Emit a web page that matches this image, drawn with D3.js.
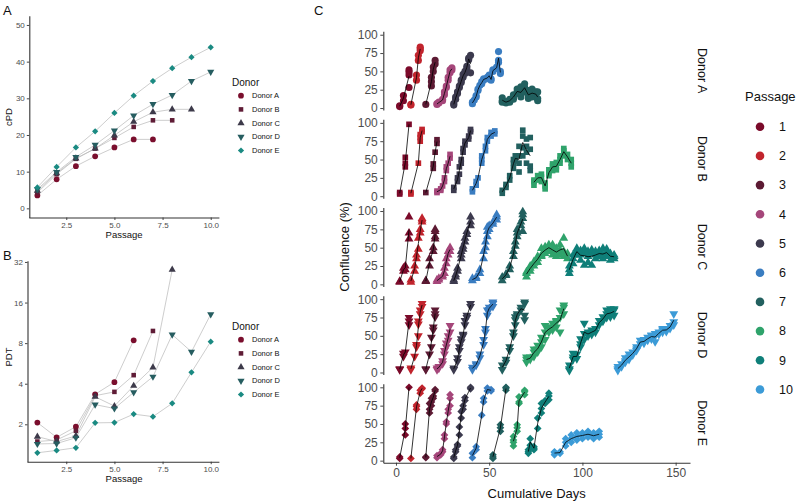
<!DOCTYPE html>
<html><head><meta charset="utf-8">
<script src="https://cdn.jsdelivr.net/npm/d3@7"></script>
<style>body{margin:0;background:#fff} text{font-family:"Liberation Sans",Arial,Helvetica,sans-serif}</style>
</head><body><svg id="chart" width="800" height="504"></svg>
<script>
// ---------- DATA ----------
const donors = ["Donor A","Donor B","Donor C","Donor D","Donor E"];
const donorColors = ["#7A0E2D","#5F1C36","#3D3A4A","#265D60","#1A8A82"];
const passageNumbers = [1,2,3,4,5,6,7,8,9,10];
const passageColors = ["#7B0A2A","#C1242D","#5C1A33","#A5467A","#3C3A4E","#3A7DC1","#22605F","#2FA36B","#0F7F79","#3C9BD7"];
// cumulative population doublings, per donor, passage 1..n
const cpdValues = [
  [3.5,7.9,11.5,14.2,16.6,18.8,18.8],
  [4.3,9.3,13.5,16.3,19.2,22.2,24.0,24.0],
  [4.8,9.6,13.6,16.3,19.9,23.6,26.2,27.0,27.0],
  [5.2,9.9,14.0,17.3,21.2,25.3,28.4,30.9,34.7,37.2],
  [5.7,11.3,16.6,21.0,26.0,30.7,34.7,38.2,41.2,43.9]
];
// population doubling time, per donor, passage 1..n
const pdtValues = [
  [2.06,1.60,1.92,3.34,4.11,8.4],
  [1.49,1.53,1.79,3.26,3.48,4.63,9.85],
  [1.62,1.49,1.64,3.2,2.73,3.86,5.28,28.1],
  [1.43,1.44,1.59,2.80,2.62,3.45,4.51,9.25,6.9,13.1],
  [1.23,1.28,1.34,2.05,2.06,2.38,2.28,2.86,4.86,8.2]
];
const passageTicks = [2.5,5,7.5,10];
const cpdTicks = [0,10,20,30,40,50];
const pdtTicks = [2,4,8,16,32];
const confTicks = [0,25,50,75,100];
const dayTicks = [0,50,100,150];
// confluence (%) : per passage, list of [cumulative day, replicate values]
const confDonorA = [
  [[2,[2,3]],[4,[10,17]],[7,[28,45,49,52]]],
  [[8,[4,5]],[11,[38,45]],[12,[65,72]],[13,[78,81,83]]],
  [[16,[5]],[19,[30,36,42]],[20,[50,56]],[21,[60,65]]],
  [[22,[5,6]],[23,[7,8]],[25,[10,12]],[26,[18,22]],[27,[28,30]],[28,[38,42]],[29,[48,52]],[30,[52,55]]],
  [[31,[4,6]],[32,[12,15]],[33,[20,22]],[34,[28,30]],[35,[35,38]],[36,[42,46]],[37,[47,50]],[38,[54,57]],[39,[66,68]],[40,[48,72]]],
  [[41,[6,8]],[42,[11]],[43,[15,17]],[44,[24,26]],[45,[31]],[46,[33,36]],[47,[38,40]],[49,[40,42]],[50,[43,45]],[51,[38,40]],[52,[50,52]],[54,[54,56]],[55,[62,65,77]],[56,[47,50]]],
  [[57,[8,10,14]],[59,[7,9]],[61,[8,12]],[63,[12,15,18]],[65,[20,22,26]],[67,[15,20,29]],[69,[22,28,33]],[71,[13,17,24]],[73,[15,20,26]],[75,[15,20,22]],[76,[10,13,22]]]
];
const confDonorB = [
  [[2,[3,5]],[5,[40,45,53]],[7,[98]]],
  [[8,[3,5]],[12,[45]],[13,[75,80,84]],[14,[88,91]]],
  [[16,[5]],[20,[38,44]],[21,[60]],[22,[72,77]]],
  [[22,[5,7]],[24,[8,10]],[25,[14]],[26,[20,25]],[27,[35,40]],[28,[45]],[29,[52,57]]],
  [[31,[8,12]],[33,[20,25]],[34,[30,40]],[35,[45,50]],[36,[60,65]],[37,[70,75]],[39,[78,82]],[40,[88,91]]],
  [[41,[6,10]],[43,[15,20]],[44,[25]],[46,[45,50,55]],[48,[62,68]],[49,[75,80]],[51,[82,87]],[53,[85,89]]],
  [[57,[4,8]],[59,[12,16]],[61,[22,28]],[63,[38,45,50]],[64,[48,55]],[66,[33,45,55,68]],[68,[55,66,82,90]],[70,[45,60,68,78]],[72,[35,41,64,80]]],
  [[74,[15,20,22]],[76,[22,28]],[78,[20,26,30]],[80,[10,14,18]],[82,[28,32,36]],[84,[35,41,44]],[86,[36,40,46]],[88,[45,50,55]],[90,[55,62,65]],[92,[50,57]],[94,[40,45,50]]]
];
const confDonorC = [
  [[2,[3,4]],[4,[18,22]],[5,[20,25]],[7,[62,70,92]]],
  [[8,[3,6]],[10,[18,25]],[11,[35,40]],[12,[48,63]],[13,[70,75]],[14,[85,88,90]]],
  [[16,[4,5]],[18,[25,35]],[20,[45,50]],[21,[62,65,72,75]]],
  [[22,[4,6]],[23,[6,8]],[25,[10,12]],[26,[15,22]],[27,[28,35]],[28,[40,45]],[29,[45,50]]],
  [[31,[4,6]],[32,[10,13]],[33,[18,22]],[35,[35,40,45]],[36,[48,52]],[37,[58,63]],[38,[68,72]],[40,[80,85,92]]],
  [[41,[5,8]],[43,[8,10]],[45,[15,20]],[47,[35,45]],[48,[50,58]],[49,[65,72,78]],[50,[75,80]],[52,[82,85]],[54,[88,92,95]]],
  [[57,[5,10]],[59,[12,14]],[61,[20,25]],[63,[38,45]],[64,[52,58]],[65,[65,70,75]],[67,[80,85]],[68,[72,90,95,99]]],
  [[70,[10,15,17]],[72,[18,22,25]],[74,[25,29,31]],[76,[30,35,38]],[78,[38,40,49]],[80,[42,47,51]],[82,[45,51,54]],[84,[40,47,54]],[86,[38,45,49]],[88,[40,47,54]],[90,[38,45,63]],[92,[35,42]]],
  [[93,[15,20,25]],[95,[28,35,40]],[97,[40,45,49]],[99,[33,40,46]],[101,[26,42,49]],[103,[30,38,45]],[105,[26,42,47]],[107,[35,40,45]],[109,[38,42,46]],[111,[35,40,49]],[113,[38,44,48]],[115,[33,40,42]],[117,[35,38,40]]]
];
const confDonorD = [
  [[2,[4,5]],[4,[22,26]],[5,[28]],[7,[65,70,75]]],
  [[8,[4,6]],[10,[22]],[11,[35,38]],[12,[50,66,70]],[13,[80,85]],[14,[90,94]]],
  [[16,[4,5]],[18,[25]],[19,[35,48]],[20,[58,62]],[21,[76,80,85]]],
  [[22,[4,6]],[23,[6,8]],[25,[12,16]],[26,[25,30]],[27,[35,40]],[28,[44,50]],[29,[55,64]]],
  [[31,[4,6]],[33,[15,20]],[34,[30,35]],[35,[42,46]],[36,[50,52]],[37,[65,71]],[38,[75,78]],[40,[90,94]]],
  [[41,[4,7]],[43,[10,12]],[45,[20,25]],[47,[38,45]],[48,[55,60]],[49,[78,85]],[50,[86,89]],[52,[90,94,96]]],
  [[57,[4,10]],[59,[14,18]],[61,[30,35]],[63,[50,55]],[64,[65,72,76]],[65,[78,80]],[67,[85,89]],[69,[72,78,94,96]]],
  [[70,[14,18,21]],[72,[18,21]],[74,[22,28,32]],[76,[28,32,37]],[78,[35,42,48]],[80,[45,55,64]],[82,[55,60,62]],[84,[58,62,67]],[86,[62,69,71]],[88,[55,75,85]],[90,[80,89,92]]],
  [[93,[3,5,10]],[95,[18,21,26]],[97,[19,25]],[99,[35,39,46]],[101,[45,53,67]],[103,[50,55]],[105,[52,55,58]],[107,[55,60]],[109,[65,71]],[111,[70,76]],[113,[75,80,85]],[115,[76,80,87]],[117,[78,85,87]]],
  [[119,[3,5,8]],[121,[8,12]],[123,[14,16,20]],[125,[18,21,25]],[127,[24,28]],[129,[30,32,35]],[131,[39,44]],[133,[40,42,45]],[135,[44,48]],[137,[46,50,51]],[139,[42,50,53]],[141,[52,55]],[143,[55,58,60]],[145,[56,60]],[147,[60,64]],[149,[65,69,80]]]
];
const confDonorE = [
  [[2,[3,5]],[5,[35,44,50]],[7,[100]]],
  [[8,[3]],[11,[70,74,76]],[13,[92,96]],[14,[98,99]]],
  [[16,[4,5]],[18,[65,70,78]],[19,[75,80,85]],[20,[85,88]],[21,[95,97]]],
  [[22,[4,7]],[24,[8,10]],[25,[12,15]],[26,[30,35]],[27,[50,53]],[28,[65,70]],[29,[75,85,90]]],
  [[31,[3,5]],[32,[12,15]],[33,[20,22]],[34,[35,46]],[35,[58,67]],[36,[70,75]],[37,[82,86]],[40,[98,100]]],
  [[41,[4,10]],[43,[15,19]],[46,[62]],[47,[80,85]],[49,[95,99]],[51,[95,97]]],
  [[52,[3,5,8]],[56,[40,45,49]],[59,[96,99,100]]],
  [[63,[20,25,28,33]],[65,[40,45,49]],[66,[78,80,87]],[69,[90,94,96]]],
  [[71,[10,12,15]],[72,[21,30]],[74,[15,17,19]],[76,[44,58]],[78,[65,71,78]],[80,[78,82]],[82,[83,88,92]]],
  [[85,[8,11,12]],[88,[10,12]],[91,[20,25,30]],[94,[25,30,35]],[97,[28,33,38]],[100,[30,35,38]],[103,[32,36,40]],[106,[30,34,38]],[109,[32,36,40]]]
];

// ---------- DRAW ----------
const svg = d3.select("#chart");
const AXC = "#333333", TXC = "#4D4D4D";
const symTypes = [d3.symbolCircle,d3.symbolSquare,d3.symbolTriangle,d3.symbolTriangle,d3.symbolSquare];
const symRot = [0,0,0,180,45];
const symScale = [1,0.8,0.85,0.85,0.75];
function symPath(di, size){ return d3.symbol().type(symTypes[di]).size(size*symScale[di])(); }
function symTransform(di, x, y){ return `translate(${x},${y}) rotate(${symRot[di]})`; }

function styleAxis(g, fs){
  g.selectAll("path.domain").attr("stroke",AXC).attr("stroke-width",1.1);
  g.selectAll(".tick line").attr("stroke",AXC).attr("stroke-width",0.9);
  g.selectAll(".tick text").attr("fill",TXC).attr("font-size",fs).attr("font-family",null);
  g.attr("font-family",null).attr("font-size",null);
}

// ---- Panel A & B ----
const xP = d3.scaleLinear().domain([0.55,10.45]).range([28.7,219.4]);
const yA = d3.scaleLinear().domain([-2.5,52.5]).range([217.5,15.8]);
const yB = d3.scaleLog().base(2).domain([1.056,32.7]).range([461.7,260.7]);

function smallPanel(yScale, values, yTicks, axisY, yTitle, yTitleY, label, labelY, legendTop, axisX){
  const g = svg.append("g");
  const gx = g.append("g").attr("transform",`translate(0,${axisY})`)
    .call(d3.axisBottom(xP).tickValues(passageTicks).tickFormat(d3.format(".1f")).tickSize(2.5).tickSizeOuter(0).tickPadding(2));
  styleAxis(gx, 8);
  const gy = g.append("g").attr("transform",`translate(${axisX},0)`)
    .call(d3.axisLeft(yScale).tickValues(yTicks).tickFormat(d3.format("d")).tickSize(2.5).tickSizeOuter(0).tickPadding(2));
  styleAxis(gy, 8);
  gx.select("path.domain").attr("d",`M${axisX},0.5H${xP.range()[1]}`);
  values.forEach((vals, di) => {
    const pts = vals.map((v,i)=>[i+1,v]);
    g.append("path").attr("d", d3.line().x(d=>xP(d[0])).y(d=>yScale(d[1]))(pts))
      .attr("fill","none").attr("stroke","#B8B8B8").attr("stroke-width",0.7);
  });
  values.forEach((vals, di) => {
    vals.forEach((v,i)=>{
      g.append("path").attr("d",symPath(di,26)).attr("transform",symTransform(di,xP(i+1),yScale(v)))
        .attr("fill",donorColors[di]);
    });
  });
  g.append("text").attr("x",(xP.range()[0]+xP.range()[1])/2).attr("y",axisY+20).attr("text-anchor","middle")
    .attr("font-size",9.5).attr("fill","#111").text("Passage");
  g.append("text").attr("transform",`translate(12,${yTitleY}) rotate(-90)`).attr("text-anchor","middle")
    .attr("font-size",9.5).attr("fill","#111").text(yTitle);
  g.append("text").attr("x",3).attr("y",labelY).attr("font-size",13).attr("fill","#111").text(label);
  g.append("text").attr("x",232).attr("y",legendTop).attr("font-size",10).attr("fill","#111").text("Donor");
  donors.forEach((d,di)=>{
    const yy = legendTop + 9.7 + di*13.7;
    g.append("path").attr("d",symPath(di,26)).attr("transform",symTransform(di,241,yy)).attr("fill",donorColors[di]);
    g.append("text").attr("x",252).attr("y",yy).attr("dy","0.35em").attr("font-size",7.5).attr("fill","#111").text(d);
  });
}
smallPanel(yA, cpdValues, cpdTicks, 217.5, "cPD", 117, "A", 15, 86, 29.3);
smallPanel(yB, pdtValues, pdtTicks, 461.7, "PDT", 357, "B", 260, 330, 27.5);

// ---- Panel C ----
const confData = [confDonorA, confDonorB, confDonorC, confDonorD, confDonorE];
const xC = d3.scaleLinear().domain([-6.8,157.7]).range([383.3,690]);
const facetTop0 = 31.2, facetStep = 88.15, facetH = 78.9;
const gC = svg.append("g");
confData.forEach((passList, di) => {
  const top = facetTop0 + di*facetStep;
  const y = d3.scaleLinear().domain([-2.8,104.8]).range([top+facetH, top]);
  const ga = gC.append("g").attr("transform",`translate(${xC.range()[0]},0)`)
    .call(d3.axisLeft(y).tickValues(confTicks).tickSize(3).tickSizeOuter(0).tickPadding(2.5));
  styleAxis(ga, 12);
  passList.forEach((obs, pi) => {
    const pts = obs.flatMap(([day, vals]) => vals.map(v => [day, v]));
    gC.append("g").selectAll("path").data(pts).join("path")
      .attr("d", symPath(di, 40))
      .attr("transform", d => symTransform(di, xC(d[0]), y(d[1])))
      .attr("fill", passageColors[pi]);
  });
  passList.forEach((obs, pi) => {
    const means = obs.map(([day, vals]) => [day, d3.mean(vals)]);
    gC.append("path").attr("d", d3.line().x(d=>xC(d[0])).y(d=>y(d[1]))(means))
      .attr("fill","none").attr("stroke","#000").attr("stroke-width",0.8);
  });
  gC.append("text").attr("transform",`translate(702.5,${top+facetH/2}) rotate(90)`)
    .attr("text-anchor","middle").attr("dy","0.35em").attr("font-size",12.5).attr("fill","#111").text(donors[di]);
});
const bottomY = facetTop0 + 4*facetStep + facetH;
const gxC = gC.append("g").attr("transform",`translate(0,${bottomY})`)
  .call(d3.axisBottom(xC).tickValues(dayTicks).tickSize(3).tickSizeOuter(0).tickPadding(2.5));
styleAxis(gxC, 12);
gC.append("text").attr("x",(xC.range()[0]+xC.range()[1])/2).attr("y",498).attr("text-anchor","middle")
  .attr("font-size",13).attr("fill","#111").text("Cumulative Days");
gC.append("text").attr("transform",`translate(349,${(facetTop0+bottomY)/2}) rotate(-90)`).attr("text-anchor","middle")
  .attr("font-size",13).attr("fill","#111").text("Confluence (%)");
gC.append("text").attr("x",314).attr("y",15).attr("font-size",13).attr("fill","#111").text("C");
gC.append("text").attr("x",745).attr("y",101).attr("font-size",13).attr("fill","#111").text("Passage");
passageNumbers.forEach((p,i)=>{
  const yy = 126.7 + i*29.2;
  gC.append("circle").attr("cx",760).attr("cy",yy).attr("r",4.3).attr("fill",passageColors[i]);
  gC.append("text").attr("x",779).attr("y",yy).attr("dy","0.35em").attr("font-size",12.5).attr("fill","#111").text(p);
});
</script></body></html>
